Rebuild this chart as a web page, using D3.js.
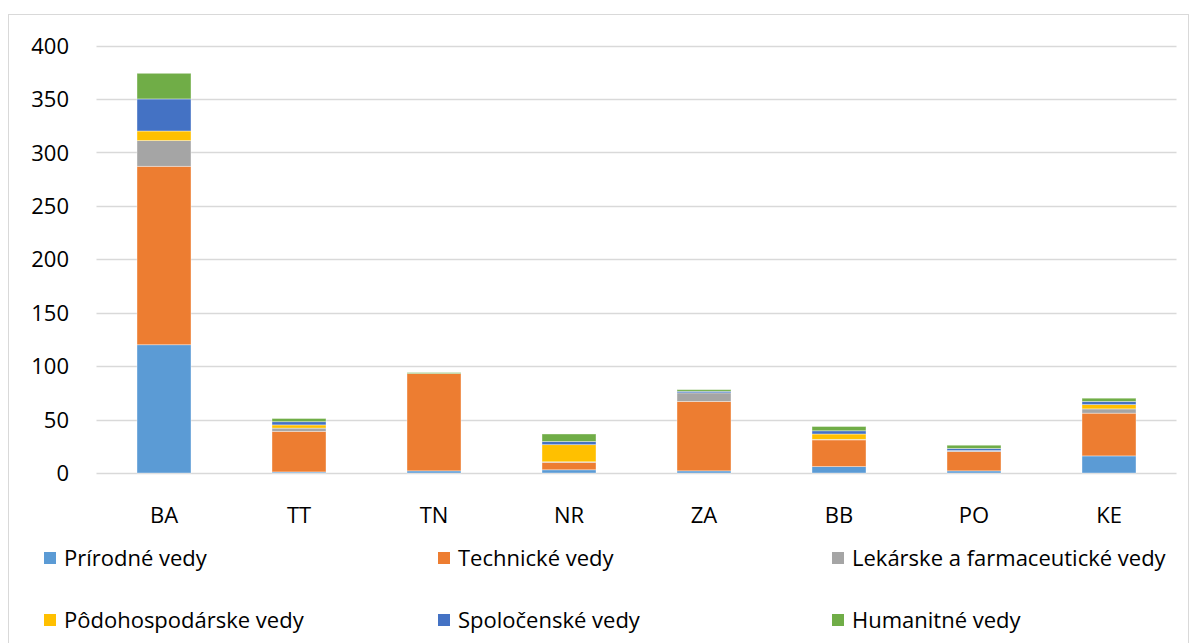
<!DOCTYPE html>
<html><head><meta charset="utf-8">
<script src="https://cdn.jsdelivr.net/npm/d3@7"></script>
<style>body{margin:0;background:#fff}svg{display:block;font-family:"Open Sans","Noto Sans",sans-serif}</style>
</head><body>
<svg id="c" width="1194" height="643"></svg>
<script>
const categories = ["BA","TT","TN","NR","ZA","BB","PO","KE"];
const seriesNames = ["Prírodné vedy","Technické vedy","Lekárske a farmaceutické vedy","Pôdohospodárske vedy","Spoločenské vedy","Humanitné vedy"];
const seriesColors = ["#5B9BD5","#ED7D31","#A5A5A5","#FFC000","#4472C4","#70AD47"];
const prirodne      = [120, 1, 2, 3, 2, 6, 2, 16];
const technicke     = [167, 38, 91, 7, 65, 25, 18, 40];
const lekarske      = [24, 3, 0, 0.5, 8, 0.5, 1, 4];
const podohosp      = [9, 3, 0, 16, 0, 5, 0, 4];
const spolocenske   = [30, 3, 0, 3, 1.5, 3, 2, 3];
const humanitne     = [24, 3, 1, 7, 1.5, 4, 3, 3];
const yTicks = [0,50,100,150,200,250,300,350,400];

const seriesValues = [prirodne, technicke, lekarske, podohosp, spolocenske, humanitne];
const rows = categories.map((c,i)=>{const o={cat:c}; seriesNames.forEach((s,j)=>o[s]=seriesValues[j][i]); return o;});
const stack = d3.stack().keys(seriesNames)(rows);

const svg = d3.select("#c");
svg.append("rect").attr("x",8.5).attr("y",14.5).attr("width",1180).attr("height",640)
  .attr("fill","none").attr("stroke","#D9D9D9").attr("stroke-width",1);

const L=96.5, R=1176.5, T=45.5, B=473;
const x = d3.scaleBand().domain(categories).range([L,R]).paddingInner(0.6).paddingOuter(0.3);
const y = d3.scaleLinear().domain([0,400]).range([B,T]);
const FS = 22;
const FF = "'Open Sans','Noto Sans',sans-serif";

const g = svg.append("g");
g.selectAll("line.grid").data(yTicks).join("line")
  .attr("x1",L).attr("x2",R).attr("y1",d=>Math.round(y(d))+0.5).attr("y2",d=>Math.round(y(d))+0.5)
  .attr("stroke","#D9D9D9").attr("stroke-width",1.3);

const yAxis = d3.axisLeft(y).tickValues(yTicks).tickSize(0).tickPadding(0);
const ya = svg.append("g").attr("transform",`translate(${69},0)`).call(yAxis);
ya.select(".domain").remove();
ya.selectAll("text").attr("font-size",FS).attr("fill","#000").attr("font-family",FF).attr("dy","0.35em");

g.selectAll("g.s").data(stack).join("g").attr("fill",(d,i)=>seriesColors[i])
  .selectAll("rect").data(d=>d).join("rect")
  .attr("x",d=>x(d.data.cat)).attr("width",x.bandwidth())
  .attr("y",d=>y(d[1])).attr("height",d=>Math.max(0,y(d[0])-y(d[1])))
  .attr("stroke","#fff").attr("stroke-opacity",0.5).attr("stroke-width",0.75);

const xAxis = d3.axisBottom(x).tickSize(0).tickPadding(0);
const xa = svg.append("g").attr("transform",`translate(0,${515})`).call(xAxis);
xa.select(".domain").remove();
xa.selectAll("text").attr("font-size",FS).attr("fill","#000").attr("font-family",FF).attr("dy","0.35em");

const legX=[44,438,832], legY=[558,620];
const leg = svg.append("g").selectAll("g").data(seriesNames).join("g")
  .attr("transform",(d,i)=>`translate(${legX[i%3]},${legY[Math.floor(i/3)]})`);
leg.append("rect").attr("x",0).attr("y",-6).attr("width",12).attr("height",12).attr("fill",(d,i)=>seriesColors[i]);
leg.append("text").attr("x",20).attr("y",0).attr("dy","0.35em").attr("font-size",FS).attr("font-family",FF).attr("fill","#000").text(d=>d);
</script>
</body></html>
